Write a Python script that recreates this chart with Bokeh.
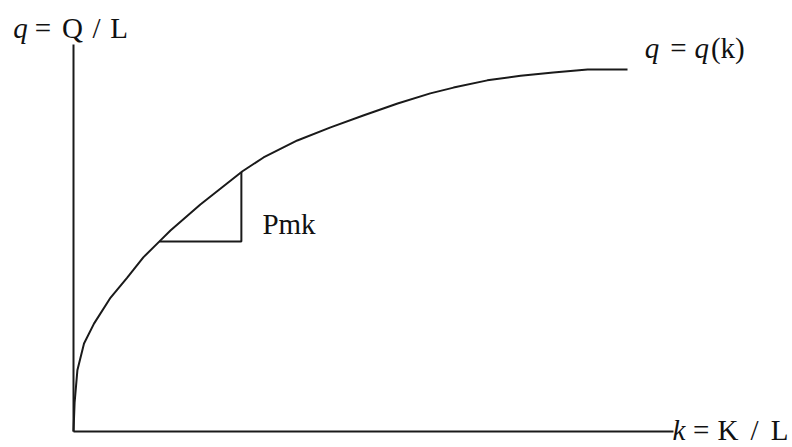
from bokeh.plotting import figure
from bokeh.models import Range1d, ColumnDataSource
from bokeh.embed import file_html
from bokeh.resources import INLINE
from bokeh.core.properties import value

# ---- data (diagram units) ----
# production function q = q(k)
k_curve = [0.0, 0.02, 0.07, 0.19, 0.37, 0.67, 0.97, 1.26, 1.57, 1.75, 2.29,
           3.05, 3.43, 4.04, 4.64, 5.23, 5.85, 6.44, 6.86, 7.47, 8.07, 8.66,
           9.28, 10.0]
q_curve = [0.0, 0.80, 1.69, 2.43, 2.98, 3.70, 4.25, 4.81, 5.28, 5.55, 6.27,
           7.19, 7.57, 8.04, 8.40, 8.73, 9.06, 9.34, 9.50, 9.70, 9.83, 9.92,
           10.0, 10.0]
# slope triangle (Pmk)
tri_k = [1.55, 3.03, 3.03]
tri_q = [5.25, 5.25, 7.17]
# axes extents
axis_k_end = 10.83
axis_q_end = 10.69

# ---- labels (tokens, styles) ----
lab_text = ["q", "=", "Q", "/", "L",
            "q", "=", "q", "(k)",
            "Pmk",
            "k", "=", "K", "/", "L"]
lab_style = ["italic", "normal", "normal", "normal", "normal",
             "italic", "normal", "italic", "normal",
             "normal",
             "italic", "normal", "normal", "normal", "normal"]
# annotation placement
lab_x = [-0.957, -0.551, -0.018, 0.415, 0.821,
         10.44, 10.92, 11.34, 11.81,
         3.41,
         10.93, 11.33, 11.814, 12.292, 12.744]
lab_y = [11.14] * 5 + [10.59] * 4 + [5.73] + [0.03] * 5
lab_align = ["center"] * 9 + ["left"] + ["center"] * 5

W, H = 792, 447
p = figure(width=W, height=H, output_backend="svg", toolbar_location=None,
           x_range=Range1d(-1.3177, 12.978), y_range=Range1d(-0.442, 11.906),
           min_border=0, min_border_left=0, min_border_right=0,
           min_border_top=0, min_border_bottom=0)
p.axis.visible = False
p.grid.visible = False
p.outline_line_color = None
p.background_fill_color = "white"
p.border_fill_color = "white"

ink = "#1a1a1a"
# axes
p.line([0, 0], [0, axis_q_end], line_color=ink, line_width=2)
p.line([0, axis_k_end], [0, 0], line_color=ink, line_width=2)
# curve
p.line(k_curve, q_curve, line_color=ink, line_width=2, line_join="round")
# triangle
p.line(tri_k, tri_q, line_color=ink, line_width=2)

src = ColumnDataSource(dict(x=lab_x, y=lab_y, t=lab_text, s=lab_style, a=lab_align))
p.text(x="x", y="y", text="t", source=src, text_font=value("Liberation Serif"),
       text_font_size="29px", text_font_style="s", text_align="a",
       text_baseline="alphabetic", text_color="#111111")

open("out.html", "w").write(file_html(p, INLINE))
